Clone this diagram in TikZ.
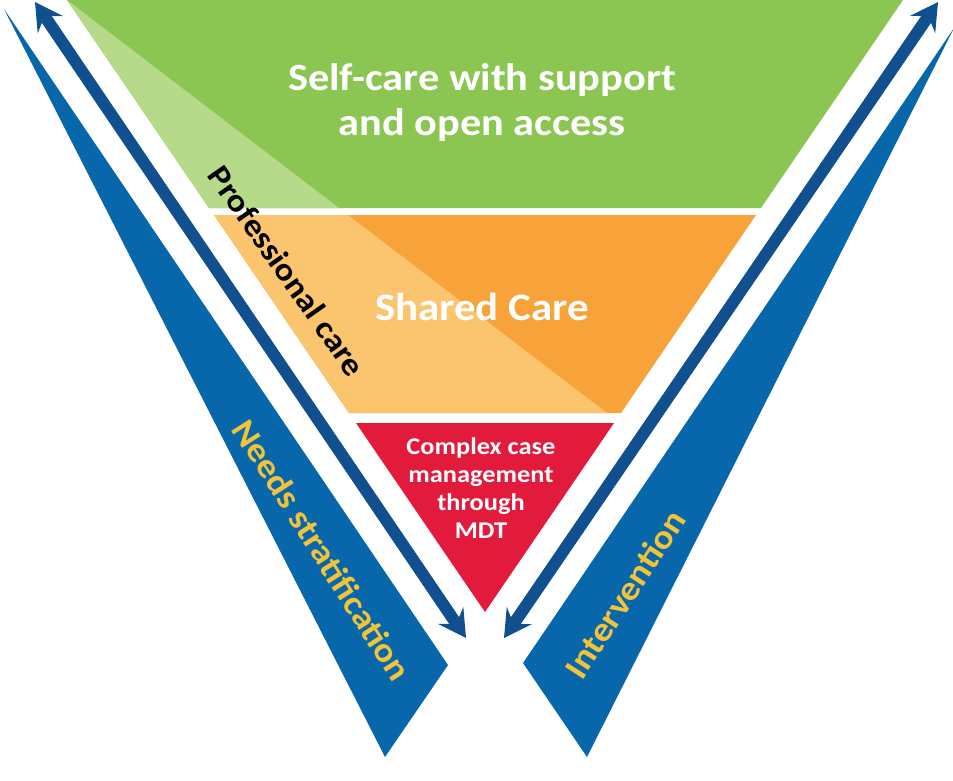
\documentclass[tikz,border=0pt]{standalone}
\usepackage{fontspec}
\setmainfont{Carlito}[FakeStretch=1.1]
\usetikzlibrary{arrows.meta}
\definecolor{cgreen}{HTML}{8CC652}
\definecolor{clgreen}{HTML}{B6D98A}
\definecolor{corange}{HTML}{F8A23A}
\definecolor{clorange}{HTML}{FBC56F}
\definecolor{cred}{HTML}{E21B3D}
\definecolor{cband}{HTML}{0767AA}
\definecolor{carrow}{HTML}{11508F}
\definecolor{cyellow}{HTML}{F2C33A}
\tikzset{
  bandfill/.style={fill=cband},
  dblarrow/.style={carrow, line width=12pt,
    {Stealth[length=27pt,width=30pt,inset=10pt]}-{Stealth[length=27pt,width=30pt,inset=10pt]}},
  whitelbl/.style={text=white, font=\bfseries, align=center},
  yellowlbl/.style={text=cyellow, font=\bfseries\fontsize{34}{40}\selectfont},
}
\begin{document}
\begin{tikzpicture}[x=1pt,y=-1pt]
\useasboundingbox (0,0) rectangle (953,780);
% green level
\fill[cgreen] (67,0) -- (903,0) -- (761,208) -- (209,208) -- cycle;
\fill[clgreen] (67,0) -- (339,208) -- (209,208) -- cycle;
% orange level
\fill[corange] (214,215) -- (756,215) -- (621,413) -- (349,413) -- cycle;
\fill[clorange] (214,215) -- (348,215) -- (607,413) -- (349,413) -- cycle;
% red level
\fill[cred] (356,423) -- (614,423) -- (485,612) -- cycle;
% blue bands
\fill[bandfill] (4,9) -- (448,665) -- (385,757) -- cycle;
\fill[bandfill] (954,28) -- (523,663) -- (587,757) -- cycle;
% arrows
\coordinate (lt) at (35,2);
\coordinate (lb) at (466,638);
\coordinate (rt) at (938,2);
\coordinate (rb) at (504,638);
\draw[dblarrow] (lt) -- (lb);
\draw[dblarrow] (rt) -- (rb);
% texts
\node[whitelbl, font=\bfseries\fontsize{38.5}{45}\selectfont] (self) at (482,103)
  {Self-care with support\\and open access};
\node[whitelbl, font=\bfseries\fontsize{39}{45}\selectfont] (shared) at (482,307) {Shared Care};
\node[whitelbl, font=\bfseries\fontsize{24}{28}\selectfont] (complex) at (481,488)
  {Complex case\\management\\through\\MDT};
\node[text=black, font=\bfseries\fontsize{32}{38}\selectfont, rotate=-55] (prof) at (287,271) {Professional care};
\node[yellowlbl, rotate=-57.5] (needs) at (322,550) {Needs stratification};
\node[yellowlbl, rotate=57] (interv) at (625,594) {Intervention};
\end{tikzpicture}
\end{document}
